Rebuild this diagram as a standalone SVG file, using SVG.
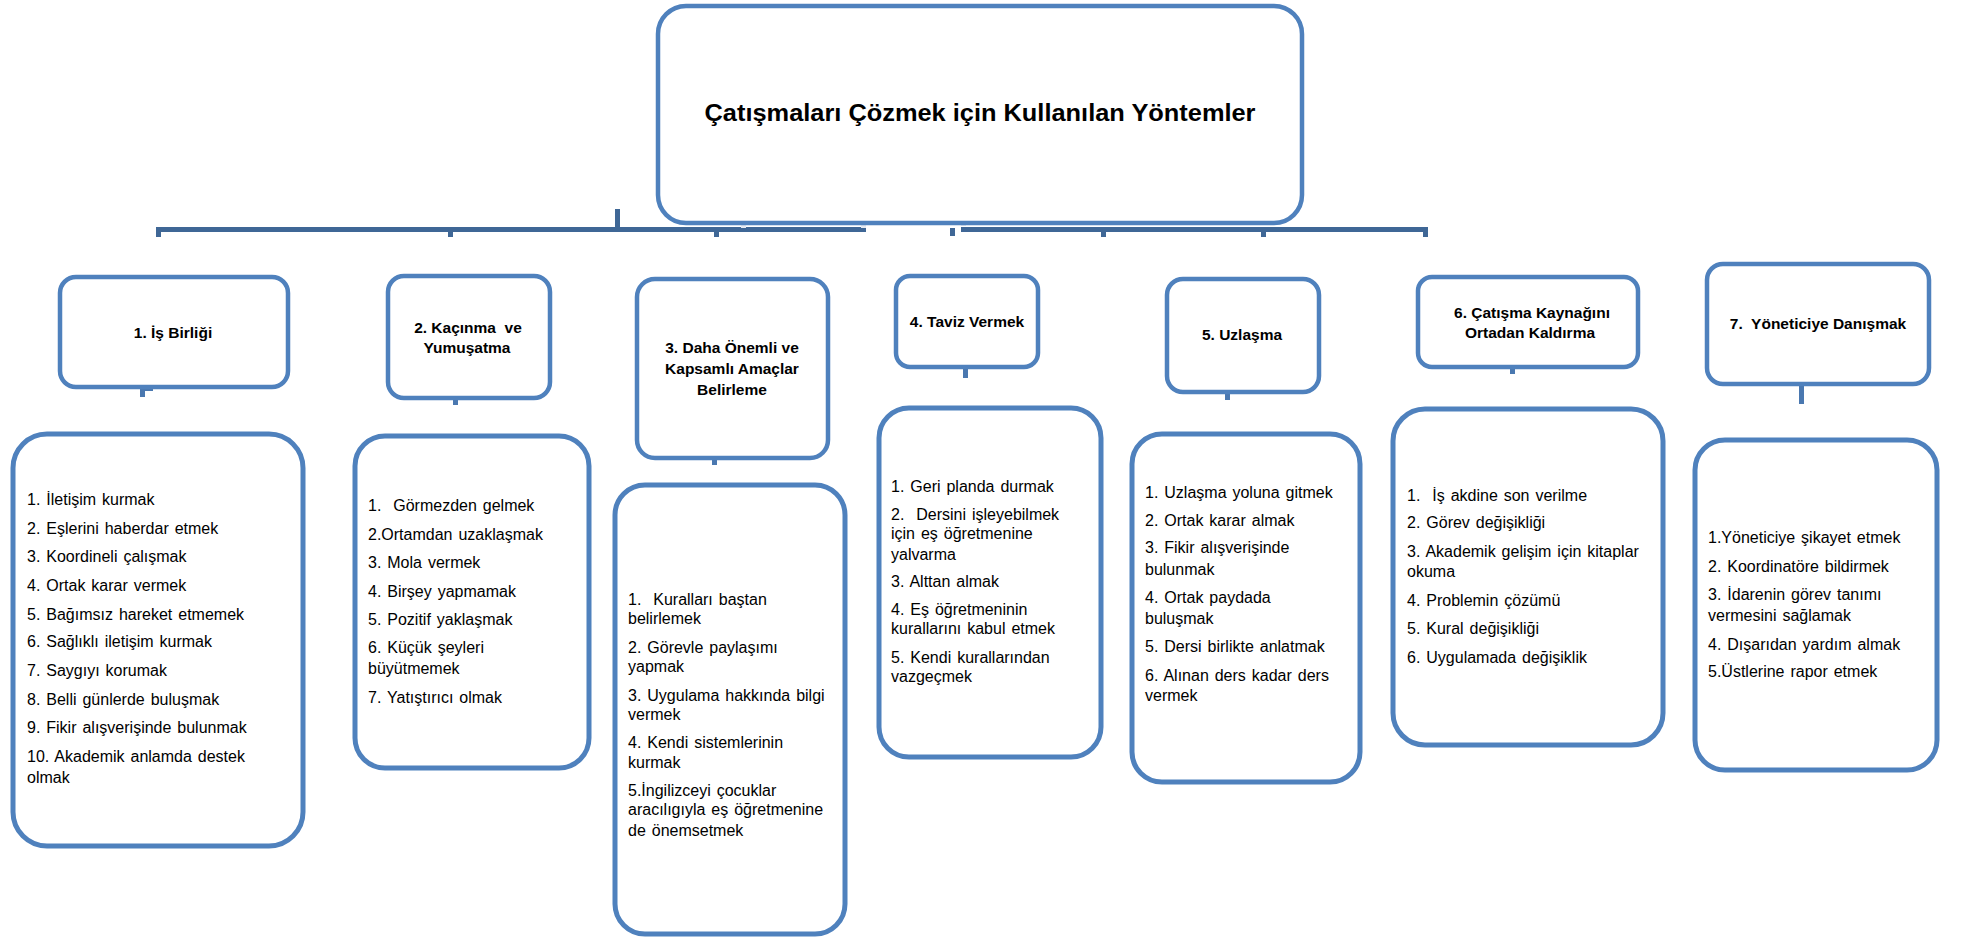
<svg xmlns="http://www.w3.org/2000/svg" width="1962" height="938" viewBox="0 0 1962 938">
<style>
  .box { fill: #ffffff; stroke: #4F81BD; stroke-width: 4.5; }
  .lbox { fill: #ffffff; stroke: #4F81BD; stroke-width: 5; }
  .title { font-family: "Liberation Sans", Arial, sans-serif; font-weight: bold; font-size: 15.5px; fill: #000; text-anchor: middle; }
  .main { font-family: "Liberation Sans", Arial, sans-serif; font-weight: bold; font-size: 23px; fill: #000; text-anchor: middle; }
  .item { font-family: "Liberation Sans", Arial, sans-serif; font-size: 16px; fill: #000; word-spacing: 1.5px; white-space: pre; }
  .bar { fill: #3F6796; }
  .stub { fill: #4A78B0; }
  .light { fill: #E5EAF2; }
</style>

<g id="connectors">
  <rect class="bar" x="156" y="227" width="710" height="5"/>
  <rect class="bar" x="961" y="227" width="467" height="5"/>
  <rect class="bar" x="615" y="209" width="5" height="20"/>
  <rect class="bar" x="156" y="229" width="5" height="8"/>
  <rect class="bar" x="448" y="229" width="5" height="8"/>
  <rect class="bar" x="714" y="229" width="5" height="8"/>
  <rect class="bar" x="950" y="228" width="5" height="8"/>
  <rect class="bar" x="1101" y="229" width="5" height="8"/>
  <rect class="bar" x="1261" y="229" width="5" height="8"/>
  <rect class="bar" x="1423" y="229" width="5" height="8"/>
  <rect class="light" x="741" y="212" width="5" height="16"/>
  <rect class="light" x="861" y="212" width="5" height="16"/>
  <rect class="light" x="961" y="212" width="5" height="14"/>
  <rect class="light" x="149" y="376" width="5" height="11"/>
  <rect class="stub" x="140" y="386" width="13" height="5"/>
  <rect class="stub" x="140" y="386" width="5" height="11"/>
  <rect class="light" x="452" y="387" width="5" height="11"/>
  <rect class="stub" x="453" y="398" width="5" height="7"/>
  <rect class="light" x="712" y="447" width="5" height="11"/>
  <rect class="stub" x="712" y="458" width="5" height="7"/>
  <rect class="light" x="960" y="354" width="5" height="12"/>
  <rect class="stub" x="963" y="366" width="5" height="12"/>
  <rect class="light" x="1225" y="378" width="5" height="13"/>
  <rect class="stub" x="1225" y="392" width="5" height="8"/>
  <rect class="light" x="1510" y="355" width="5" height="11"/>
  <rect class="stub" x="1510" y="366" width="5" height="8"/>
  <rect class="light" x="1800" y="373" width="5" height="10"/>
  <rect class="stub" x="1799" y="383" width="5" height="21"/>
</g>

<g id="root">
  <rect class="box" x="658" y="6" width="644" height="217" rx="28"/>
  <text class="main" x="980" y="121" textLength="551" lengthAdjust="spacingAndGlyphs">Çatışmaları Çözmek için Kullanılan Yöntemler</text>
</g>

<g id="m1">
  <rect class="box" x="60" y="277" width="228" height="110" rx="16"/>
  <text class="title" x="173" y="338">1. İş Birliği</text>
</g>
<g id="m2">
  <rect class="box" x="388" y="276" width="162" height="122" rx="16"/>
  <text class="title" x="468" y="333" xml:space="preserve">2. Kaçınma  ve</text>
  <text class="title" x="467" y="353">Yumuşatma</text>
</g>
<g id="m3">
  <rect class="box" x="637" y="279" width="191" height="179" rx="18"/>
  <text class="title" x="732" y="353">3. Daha Önemli ve</text>
  <text class="title" x="732" y="374">Kapsamlı Amaçlar</text>
  <text class="title" x="732" y="395">Belirleme</text>
</g>
<g id="m4">
  <rect class="box" x="896" y="276" width="142" height="91" rx="14"/>
  <text class="title" x="967" y="327">4. Taviz Vermek</text>
</g>
<g id="m5">
  <rect class="box" x="1167" y="279" width="152" height="113" rx="16"/>
  <text class="title" x="1242" y="340">5. Uzlaşma</text>
</g>
<g id="m6">
  <rect class="box" x="1418" y="277" width="220" height="90" rx="14"/>
  <text class="title" x="1532" y="318">6. Çatışma Kaynağını</text>
  <text class="title" x="1530" y="338">Ortadan Kaldırma</text>
</g>
<g id="m7">
  <rect class="box" x="1707" y="264" width="222" height="120" rx="16"/>
  <text class="title" x="1818" y="329" xml:space="preserve">7.  Yöneticiye Danışmak</text>
</g>

<g id="l1">
  <rect class="lbox" x="13" y="434" width="290" height="412" rx="34"/>
  <text class="item" x="27" y="505">1. İletişim kurmak</text>
  <text class="item" x="27" y="534">2. Eşlerini haberdar etmek</text>
  <text class="item" x="27" y="562">3. Koordineli çalışmak</text>
  <text class="item" x="27" y="591">4. Ortak karar vermek</text>
  <text class="item" x="27" y="620">5. Bağımsız hareket etmemek</text>
  <text class="item" x="27" y="647">6. Sağlıklı iletişim kurmak</text>
  <text class="item" x="27" y="676">7. Saygıyı korumak</text>
  <text class="item" x="27" y="705">8. Belli günlerde buluşmak</text>
  <text class="item" x="27" y="733">9. Fikir alışverişinde bulunmak</text>
  <text class="item" x="27" y="762">10. Akademik anlamda destek</text>
  <text class="item" x="27" y="783">olmak</text>
</g>
<g id="l2">
  <rect class="lbox" x="355" y="436" width="234" height="332" rx="30"/>
  <text class="item" x="368" y="511">1.  Görmezden gelmek</text>
  <text class="item" x="368" y="540">2.Ortamdan uzaklaşmak</text>
  <text class="item" x="368" y="568">3. Mola vermek</text>
  <text class="item" x="368" y="597">4. Birşey yapmamak</text>
  <text class="item" x="368" y="625">5. Pozitif yaklaşmak</text>
  <text class="item" x="368" y="653">6. Küçük şeyleri</text>
  <text class="item" x="368" y="674">büyütmemek</text>
  <text class="item" x="368" y="703">7. Yatıştırıcı olmak</text>
</g>
<g id="l3">
  <rect class="lbox" x="615" y="485" width="230" height="449" rx="30"/>
  <text class="item" x="628" y="605">1.  Kuralları baştan</text>
  <text class="item" x="628" y="624">belirlemek</text>
  <text class="item" x="628" y="653">2. Görevle paylaşımı</text>
  <text class="item" x="628" y="672">yapmak</text>
  <text class="item" x="628" y="701">3. Uygulama hakkında bilgi</text>
  <text class="item" x="628" y="720">vermek</text>
  <text class="item" x="628" y="748">4. Kendi sistemlerinin</text>
  <text class="item" x="628" y="768">kurmak</text>
  <text class="item" x="628" y="796">5.İngilizceyi çocuklar</text>
  <text class="item" x="628" y="815">aracılıgıyla eş öğretmenine</text>
  <text class="item" x="628" y="836">de önemsetmek</text>
</g>
<g id="l4">
  <rect class="lbox" x="879" y="408" width="222" height="349" rx="30"/>
  <text class="item" x="891" y="492">1. Geri planda durmak</text>
  <text class="item" x="891" y="520">2.  Dersini işleyebilmek</text>
  <text class="item" x="891" y="539">için eş öğretmenine</text>
  <text class="item" x="891" y="560">yalvarma</text>
  <text class="item" x="891" y="587">3. Alttan almak</text>
  <text class="item" x="891" y="615">4. Eş öğretmeninin</text>
  <text class="item" x="891" y="634">kurallarını kabul etmek</text>
  <text class="item" x="891" y="663">5. Kendi kurallarından</text>
  <text class="item" x="891" y="682">vazgeçmek</text>
</g>
<g id="l5">
  <rect class="lbox" x="1132" y="434" width="228" height="348" rx="30"/>
  <text class="item" x="1145" y="498">1. Uzlaşma yoluna gitmek</text>
  <text class="item" x="1145" y="526">2. Ortak karar almak</text>
  <text class="item" x="1145" y="553">3. Fikir alışverişinde</text>
  <text class="item" x="1145" y="575">bulunmak</text>
  <text class="item" x="1145" y="603">4. Ortak paydada</text>
  <text class="item" x="1145" y="624">buluşmak</text>
  <text class="item" x="1145" y="652">5. Dersi birlikte anlatmak</text>
  <text class="item" x="1145" y="681">6. Alınan ders kadar ders</text>
  <text class="item" x="1145" y="701">vermek</text>
</g>
<g id="l6">
  <rect class="lbox" x="1393" y="409" width="270" height="336" rx="32"/>
  <text class="item" x="1407" y="501">1.  İş akdine son verilme</text>
  <text class="item" x="1407" y="528">2. Görev değişikliği</text>
  <text class="item" x="1407" y="557">3. Akademik gelişim için kitaplar</text>
  <text class="item" x="1407" y="577">okuma</text>
  <text class="item" x="1407" y="606">4. Problemin çözümü</text>
  <text class="item" x="1407" y="634">5. Kural değişikliği</text>
  <text class="item" x="1407" y="663">6. Uygulamada değişiklik</text>
</g>
<g id="l7">
  <rect class="lbox" x="1695" y="440" width="242" height="330" rx="30"/>
  <text class="item" x="1708" y="543">1.Yöneticiye şikayet etmek</text>
  <text class="item" x="1708" y="572">2. Koordinatöre bildirmek</text>
  <text class="item" x="1708" y="600">3. İdarenin görev tanımı</text>
  <text class="item" x="1708" y="621">vermesini sağlamak</text>
  <text class="item" x="1708" y="650">4. Dışarıdan yardım almak</text>
  <text class="item" x="1708" y="677">5.Üstlerine rapor etmek</text>
</g>
</svg>
